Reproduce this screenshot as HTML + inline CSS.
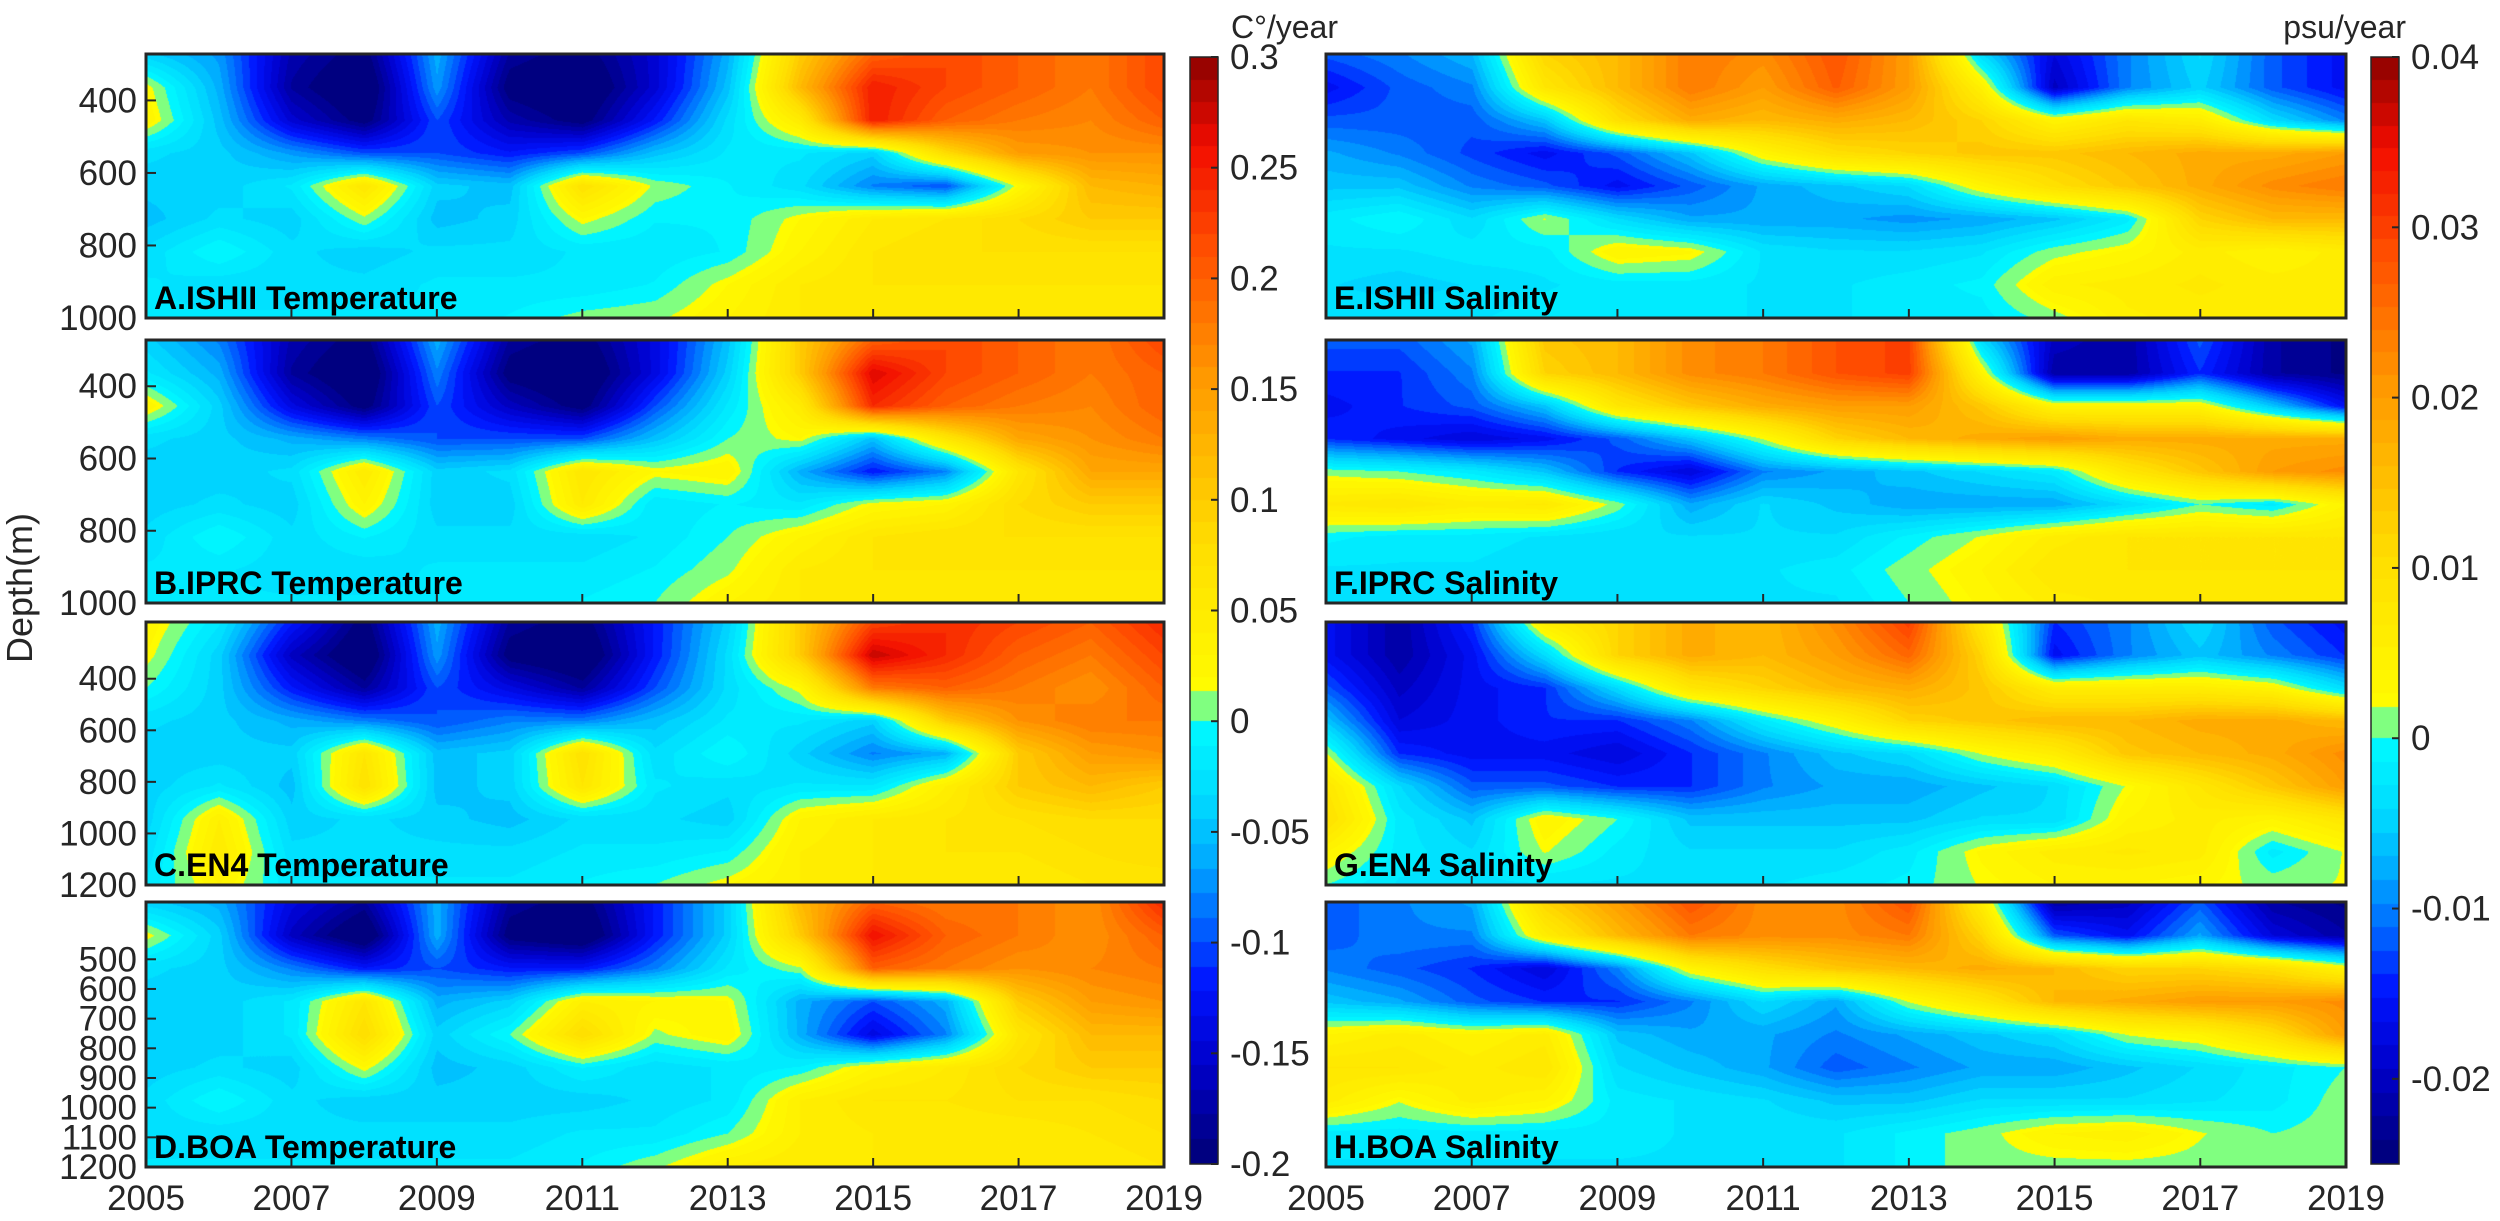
<!DOCTYPE html>
<html><head><meta charset="utf-8">
<style>
html,body{margin:0;padding:0;background:#fff;}
#root{position:relative;width:2500px;height:1221px;overflow:hidden;background:#fff;font-family:"Liberation Sans",Arial,sans-serif;}
canvas{position:absolute;}
svg{position:absolute;left:0;top:0;}
</style></head>
<body>
<div id="root">
<svg id="ov" width="2500" height="1221"></svg>
</div>
<script>
// ---------- data (rows: shallow -> deep, columns: years 2005..2019) ----------
const years = [2005,2006,2007,2008,2009,2010,2011,2012,2013,2014,2015,2016,2017,2018,2019];
const xTickLabels = ["2005","2007","2009","2011","2013","2015","2017","2019"];
const tempTicks = [-0.2,-0.15,-0.1,-0.05,0,0.05,0.1,0.15,0.2,0.25,0.3];
const tempTickLabels = ["-0.2","-0.15","-0.1","-0.05","0","0.05","0.1","0.15","0.2","0.25","0.3"];
const salTicks = [-0.02,-0.01,0,0.01,0.02,0.03,0.04];
const salTickLabels = ["-0.02","-0.01","0","0.01","0.02","0.03","0.04"];
const depthTicksAB = [400,600,800,1000];
const depthTicksC = [400,600,800,1000,1200];
const depthTicksD = [500,600,700,800,900,1000,1100,1200];

const tempISHII = [
[-0.04,-0.07,-0.17,-0.2,-0.06,-0.18,-0.2,-0.15,-0.06,0.1,0.2,0.22,0.2,0.18,0.22],
[0.02,-0.06,-0.18,-0.22,-0.07,-0.2,-0.22,-0.15,-0.05,0.12,0.25,0.22,0.2,0.18,0.22],
[0.03,-0.05,-0.15,-0.2,-0.1,-0.17,-0.2,-0.12,-0.03,0.05,0.25,0.2,0.18,0.17,0.2],
[-0.03,-0.04,-0.07,-0.1,-0.1,-0.12,-0.1,-0.05,-0.02,-0.02,-0.04,0.08,0.15,0.16,0.16],
[-0.04,-0.04,-0.02,0.06,-0.04,-0.05,0.07,0.01,-0.01,-0.03,-0.08,-0.1,0.02,0.12,0.13],
[-0.05,-0.03,-0.04,0.01,-0.05,-0.04,0.02,-0.01,-0.01,0.02,0.05,0.06,0.08,0.1,0.1],
[-0.03,0.0,-0.03,-0.04,-0.03,-0.03,-0.02,-0.02,-0.01,0.03,0.06,0.07,0.07,0.07,0.07],
[-0.02,-0.03,-0.03,-0.03,-0.02,-0.02,-0.02,-0.01,0.02,0.05,0.06,0.06,0.06,0.06,0.06],
[-0.02,-0.02,-0.02,-0.02,-0.02,-0.01,0.005,0.01,0.03,0.05,0.05,0.05,0.05,0.05,0.06]];
const tempIPRC = [
[-0.04,-0.08,-0.17,-0.2,-0.06,-0.18,-0.2,-0.14,-0.05,0.1,0.2,0.22,0.2,0.18,0.22],
[-0.02,-0.06,-0.18,-0.22,-0.08,-0.2,-0.22,-0.14,-0.04,0.1,0.27,0.22,0.2,0.18,0.2],
[0.03,-0.04,-0.14,-0.2,-0.1,-0.16,-0.2,-0.1,-0.02,0.05,0.24,0.2,0.18,0.17,0.2],
[-0.03,-0.04,-0.06,-0.08,-0.1,-0.1,-0.1,-0.05,0.0,0.02,-0.05,0.06,0.14,0.16,0.18],
[-0.04,-0.04,-0.03,0.05,-0.04,-0.03,0.06,0.02,0.03,-0.06,-0.12,-0.08,0.06,0.14,0.14],
[-0.04,-0.03,-0.04,0.03,-0.04,-0.04,0.05,-0.02,-0.01,-0.02,0.02,0.03,0.08,0.1,0.1],
[-0.03,0.0,-0.03,-0.01,-0.03,-0.03,-0.03,-0.02,0.0,0.03,0.06,0.07,0.07,0.07,0.07],
[-0.02,-0.02,-0.03,-0.03,-0.02,-0.02,-0.02,-0.01,0.01,0.05,0.06,0.06,0.06,0.06,0.06],
[-0.02,-0.02,-0.02,-0.02,-0.02,-0.02,-0.01,0.0,0.03,0.05,0.05,0.05,0.05,0.05,0.06]];
const tempEN4 = [
[0.03,-0.02,-0.12,-0.2,-0.06,-0.18,-0.2,-0.12,-0.04,0.1,0.22,0.24,0.22,0.2,0.24],
[0.02,-0.04,-0.16,-0.22,-0.07,-0.2,-0.22,-0.12,-0.03,0.1,0.28,0.24,0.2,0.18,0.22],
[0.0,-0.04,-0.12,-0.18,-0.1,-0.14,-0.18,-0.1,-0.03,0.02,0.18,0.2,0.18,0.16,0.2],
[-0.03,-0.04,-0.06,-0.08,-0.1,-0.08,-0.08,-0.05,-0.02,-0.02,-0.04,0.1,0.16,0.18,0.18],
[-0.04,-0.04,-0.04,0.06,-0.05,-0.04,0.07,-0.03,0.0,-0.04,-0.08,-0.06,0.1,0.15,0.16],
[-0.04,-0.02,-0.05,0.07,-0.05,-0.04,0.06,-0.02,-0.03,-0.02,-0.02,0.04,0.1,0.12,0.1],
[-0.04,0.04,-0.04,-0.03,-0.04,-0.05,-0.03,-0.03,-0.04,0.03,0.05,0.06,0.07,0.08,0.08],
[-0.03,0.05,-0.03,-0.03,-0.03,-0.03,-0.02,-0.02,-0.01,0.04,0.05,0.06,0.06,0.07,0.08],
[-0.02,0.03,-0.02,-0.02,-0.02,-0.02,-0.01,0.0,0.02,0.04,0.05,0.05,0.05,0.06,0.06]];
const tempBOA = [
[-0.04,-0.06,-0.14,-0.18,-0.06,-0.18,-0.2,-0.12,-0.04,0.12,0.2,0.18,0.18,0.16,0.24],
[0.02,-0.04,-0.16,-0.22,-0.06,-0.2,-0.22,-0.12,-0.04,0.1,0.26,0.2,0.18,0.16,0.2],
[-0.03,-0.04,-0.08,-0.12,-0.1,-0.12,-0.12,-0.08,-0.02,0.01,0.2,0.18,0.16,0.17,0.18],
[-0.04,-0.04,-0.02,0.06,-0.06,-0.04,0.04,0.03,0.02,-0.06,-0.1,-0.06,0.1,0.15,0.16],
[-0.04,-0.04,-0.02,0.08,-0.04,0.0,0.08,0.01,0.03,-0.06,-0.14,-0.08,0.06,0.12,0.12],
[-0.04,-0.03,-0.04,0.02,-0.05,-0.04,-0.01,-0.03,-0.02,-0.01,0.03,0.05,0.08,0.1,0.1],
[-0.03,0.0,-0.03,-0.04,-0.04,-0.04,-0.04,-0.03,-0.02,0.04,0.06,0.06,0.07,0.07,0.08],
[-0.03,-0.03,-0.03,-0.03,-0.03,-0.03,-0.02,-0.02,0.0,0.04,0.05,0.05,0.05,0.06,0.07],
[-0.02,-0.02,-0.02,-0.02,-0.02,-0.02,-0.01,0.01,0.04,0.05,0.05,0.05,0.05,0.05,0.06]];
const salISHII = [
[-0.012,-0.01,-0.007,0.012,0.016,0.024,0.022,0.028,0.02,-0.004,-0.018,-0.01,-0.004,-0.012,-0.016],
[-0.016,-0.012,-0.01,0.008,0.016,0.024,0.02,0.027,0.02,0.005,-0.02,-0.01,-0.005,-0.012,-0.016],
[-0.012,-0.012,-0.012,-0.006,0.01,0.018,0.016,0.018,0.016,0.012,0.004,0.008,0.006,-0.004,-0.01],
[-0.008,-0.01,-0.013,-0.016,-0.012,-0.006,0.004,0.01,0.012,0.014,0.014,0.016,0.018,0.018,0.02],
[-0.006,-0.006,-0.01,-0.012,-0.016,-0.012,-0.008,-0.006,-0.004,0.004,0.01,0.014,0.018,0.022,0.024],
[-0.002,0.0,-0.004,0.002,-0.004,-0.008,-0.008,-0.008,-0.009,-0.008,-0.006,-0.002,0.012,0.016,0.016],
[-0.003,-0.003,-0.002,-0.002,0.004,0.003,-0.003,-0.004,-0.004,-0.003,0.001,0.003,0.006,0.004,0.006],
[-0.004,-0.005,-0.004,-0.003,-0.002,-0.002,-0.003,-0.003,-0.002,-0.001,0.005,0.006,0.007,0.006,0.006],
[-0.003,-0.003,-0.003,-0.002,-0.002,-0.002,-0.003,-0.003,-0.002,-0.002,0.001,0.005,0.006,0.006,0.006]];
const salIPRC = [
[-0.012,-0.012,-0.008,0.014,0.016,0.022,0.024,0.028,0.03,-0.004,-0.02,-0.022,-0.012,-0.022,-0.024],
[-0.014,-0.014,-0.01,0.012,0.016,0.022,0.024,0.028,0.03,0.004,-0.022,-0.022,-0.014,-0.022,-0.024],
[-0.016,-0.014,-0.012,-0.006,0.008,0.014,0.018,0.02,0.02,0.014,0.004,0.004,0.004,-0.006,-0.016],
[-0.014,-0.016,-0.018,-0.016,-0.012,-0.006,0.002,0.012,0.016,0.018,0.02,0.018,0.018,0.018,0.018],
[0.001,0.0,-0.002,-0.006,-0.014,-0.018,-0.01,-0.008,-0.006,-0.004,-0.002,0.008,0.014,0.02,0.022],
[0.007,0.008,0.006,0.007,0.001,-0.008,-0.004,-0.006,-0.008,-0.008,-0.008,-0.004,0.0,-0.002,0.004],
[-0.001,-0.002,-0.002,-0.003,-0.004,-0.004,-0.004,-0.004,-0.001,0.002,0.006,0.008,0.008,0.008,0.008],
[-0.003,-0.003,-0.003,-0.004,-0.004,-0.004,-0.003,-0.002,0.001,0.004,0.008,0.008,0.008,0.008,0.008],
[-0.003,-0.003,-0.003,-0.003,-0.003,-0.003,-0.003,-0.003,0.0,0.003,0.006,0.007,0.007,0.007,0.008]];
const salEN4 = [
[-0.016,-0.022,-0.014,0.006,0.012,0.018,0.016,0.022,0.03,0.008,-0.014,-0.01,-0.004,-0.012,-0.016],
[-0.016,-0.022,-0.016,-0.004,0.012,0.018,0.016,0.02,0.026,0.012,-0.016,-0.01,-0.006,-0.01,-0.014],
[-0.012,-0.02,-0.016,-0.014,-0.004,0.008,0.012,0.016,0.018,0.014,0.006,0.006,0.006,0.004,-0.004],
[-0.006,-0.018,-0.016,-0.014,-0.014,-0.01,-0.002,0.004,0.012,0.014,0.016,0.016,0.018,0.018,0.016],
[0.002,-0.014,-0.016,-0.016,-0.018,-0.014,-0.01,-0.006,-0.004,0.002,0.006,0.014,0.016,0.018,0.022],
[0.008,-0.004,-0.012,-0.012,-0.014,-0.014,-0.01,-0.008,-0.008,-0.006,-0.004,0.002,0.008,0.014,0.02],
[0.01,-0.002,-0.006,0.004,0.0,-0.006,-0.006,-0.006,-0.006,-0.004,-0.004,0.004,0.006,0.004,0.008],
[0.004,-0.002,-0.004,0.002,-0.002,-0.004,-0.004,-0.004,-0.002,0.003,0.006,0.007,0.006,-0.002,0.002],
[0.0,-0.003,-0.003,-0.003,-0.003,-0.003,-0.003,-0.002,-0.001,0.002,0.004,0.004,0.003,0.001,0.002]];
const salBOA = [
[-0.012,-0.01,-0.008,0.012,0.02,0.028,0.022,0.022,0.028,0.006,-0.022,-0.02,-0.012,-0.022,-0.024],
[-0.012,-0.01,-0.01,0.006,0.016,0.024,0.022,0.022,0.024,0.012,-0.012,-0.016,-0.008,-0.018,-0.022],
[-0.01,-0.012,-0.014,-0.018,-0.01,0.004,0.01,0.014,0.016,0.018,0.016,0.012,0.012,0.01,0.004],
[-0.006,-0.008,-0.012,-0.014,-0.014,-0.01,-0.004,-0.008,0.002,0.008,0.016,0.018,0.02,0.02,0.022],
[0.004,0.006,0.004,0.006,-0.006,-0.008,-0.008,-0.01,-0.008,-0.006,-0.004,0.002,0.004,0.01,0.02],
[0.008,0.008,0.006,0.008,-0.004,-0.006,-0.008,-0.012,-0.01,-0.008,-0.008,-0.006,-0.004,-0.002,0.0],
[0.006,0.002,0.006,0.004,-0.002,-0.003,-0.004,-0.006,-0.006,-0.004,-0.004,-0.004,-0.003,-0.002,0.001],
[-0.002,-0.002,-0.002,-0.002,-0.002,-0.003,-0.003,-0.003,-0.001,0.001,0.004,0.005,0.002,0.0,0.001],
[-0.003,-0.003,-0.003,-0.003,-0.003,-0.003,-0.003,-0.003,-0.001,0.001,0.001,0.001,0.001,0.0,0.001]];

// ---------- layout ----------
const L = {lx:146, lw:1018, rx:1326, rw:1020};
const rowsY = [[54,318],[340,603],[622,885],[902,1167]];
const depthRange = [[272,1000],[272,1000],[180,1200],[307,1200]];
const TMIN=-0.2, TMAX=0.3, SMIN=-0.025, SMAX=0.04;
const CB = {top:57, bot:1164, lx:1190, rx:2371, w:28};

// ---------- colormap ----------
function lerpA(anc, t){
  for(let i=1;i<anc.length;i++){ if(t<=anc[i][0]){ const a=anc[i-1],b=anc[i]; const u=(t-a[0])/(b[0]-a[0]); return [0,1,2].map(k=>a[1][k]+(b[1][k]-a[1][k])*u);} }
  return anc[anc.length-1][1];
}
const negA=[[0,[0,1,1]],[0.2,[0,0.86,1]],[0.35,[0,0.66,1]],[0.5,[0,0.36,1]],[0.62,[0,0.08,1]],[0.8,[0,0,0.8]],[1,[0,0,0.5]]];
const posA=[[0,[1,1,0]],[0.25,[1,0.87,0]],[0.5,[1,0.6,0]],[0.7,[1,0.3,0]],[0.85,[0.95,0.05,0]],[1,[0.5,0,0]]];
function cmap(v, vmin, vmax){
  if(v<0){ let f=Math.min(1,v/vmin); f=Math.ceil(f*18)/18; return lerpA(negA,f); }
  let p=Math.min(1,v/vmax);
  if(p<0.045) return [0.5,1,0.5];
  p=Math.floor(p*30)/30; return lerpA(posA,p);
}
function sample(g, fx, fy){
  const R=g.length-1, C=g[0].length-1;
  const x=fx*C, y=fy*R; const i=Math.min(C-1,Math.floor(x)), j=Math.min(R-1,Math.floor(y));
  const u=x-i, w=y-j;
  return g[j][i]*(1-u)*(1-w)+g[j][i+1]*u*(1-w)+g[j+1][i]*(1-u)*w+g[j+1][i+1]*u*w;
}

const root=document.getElementById('root');
const ov=document.getElementById('ov');
const NS='http://www.w3.org/2000/svg';
function sv(tag, attrs, txt){ const e=document.createElementNS(NS,tag); for(const k in attrs) e.setAttribute(k,attrs[k]); if(txt!==undefined) e.textContent=txt; ov.appendChild(e); return e; }

function drawPanel(g, x, y0, y1, w, vmin, vmax, name){
  const h=y1-y0;
  const c=document.createElement('canvas'); c.width=w; c.height=h;
  c.style.left=x+'px'; c.style.top=y0+'px';
  
  
  const ctx=c.getContext('2d'); const im=ctx.createImageData(w,h);
  for(let py=0;py<h;py++){ for(let px=0;px<w;px++){
    const v=sample(g, px/(w-1), py/(h-1)); const col=cmap(v,vmin,vmax); const o=(py*w+px)*4;
    im.data[o]=col[0]*255; im.data[o+1]=col[1]*255; im.data[o+2]=col[2]*255; im.data[o+3]=255; } }
  ctx.putImageData(im,0,0); root.insertBefore(c, ov);
}
function drawColorbar(x, vmin, vmax, name){
  const h=CB.bot-CB.top;
  const c=document.createElement('canvas'); c.width=CB.w; c.height=h;
  c.style.left=x+'px'; c.style.top=CB.top+'px';
  
  
  const ctx=c.getContext('2d');
  for(let py=0;py<h;py++){ const v=vmax-(py/(h-1))*(vmax-vmin); const col=cmap(v,vmin,vmax);
    ctx.fillStyle='rgb('+Math.round(col[0]*255)+','+Math.round(col[1]*255)+','+Math.round(col[2]*255)+')'; ctx.fillRect(0,py,CB.w,1); }
  root.insertBefore(c, ov);
}
const cbY=(v,vmin,vmax)=>CB.bot-(v-vmin)/(vmax-vmin)*(CB.bot-CB.top);

const panels=[
 {g:tempISHII,side:'L',r:0,t:'A.ISHII Temperature',ticks:depthTicksAB},
 {g:tempIPRC,side:'L',r:1,t:'B.IPRC Temperature',ticks:depthTicksAB},
 {g:tempEN4,side:'L',r:2,t:'C.EN4 Temperature',ticks:depthTicksC},
 {g:tempBOA,side:'L',r:3,t:'D.BOA Temperature',ticks:depthTicksD},
 {g:salISHII,side:'R',r:0,t:'E.ISHII Salinity'},
 {g:salIPRC,side:'R',r:1,t:'F.IPRC Salinity'},
 {g:salEN4,side:'R',r:2,t:'G.EN4 Salinity'},
 {g:salBOA,side:'R',r:3,t:'H.BOA Salinity'}];

panels.forEach((p,k)=>{
  const x=p.side==='L'?L.lx:L.rx, w=p.side==='L'?L.lw:L.rw;
  const [y0,y1]=rowsY[p.r];
  const vmin=p.side==='L'?TMIN:SMIN, vmax=p.side==='L'?TMAX:SMAX;
  const nm='panel-'+'abcdefgh'[k];
  drawPanel(p.g,x,y0,y1,w,vmin,vmax,nm);
  const b=sv('rect',{x:x,y:y0,width:w,height:y1-y0,fill:'none',stroke:'#262626','stroke-width':3});
  
  
  const t=sv('text',{x:x+8,y:y1-9,'font-size':32,'font-weight':'bold',fill:'#000'},p.t);
  
  
  if(p.ticks){
    const [d0,d1]=depthRange[p.r];
    p.ticks.forEach(d=>{
      const yy=y0+(d-d0)/(d1-d0)*(y1-y0);
      const tl=sv('text',{x:x-9,y:yy+12,'font-size':35,'text-anchor':'end',fill:'#262626'},String(d));
      
      
      sv('line',{x1:x,x2:x+10,y1:yy,y2:yy,stroke:'#262626','stroke-width':2});
    });
  }
  if(p.r===3){
    xTickLabels.forEach(s=>{
      const xx=x+(Number(s)-years[0])/(years[years.length-1]-years[0])*w;
      const xl=sv('text',{x:xx,y:1210,'font-size':35,'text-anchor':'middle',fill:'#262626'},s);
      
      
    });
  }
  xTickLabels.forEach(s=>{
    const xx=x+(Number(s)-years[0])/(years[years.length-1]-years[0])*w;
    sv('line',{x1:xx,x2:xx,y1:y1,y2:y1-9,stroke:'#262626','stroke-width':2});
  });
});

drawColorbar(CB.lx,TMIN,TMAX,'temperature-colorbar');
drawColorbar(CB.rx,SMIN,SMAX,'salinity-colorbar');
[[CB.lx,TMIN,TMAX,tempTicks,tempTickLabels],[CB.rx,SMIN,SMAX,salTicks,salTickLabels]].forEach(([cx,mn,mx,tk,lb])=>{
  sv('rect',{x:cx,y:CB.top,width:CB.w,height:CB.bot-CB.top,fill:'none',stroke:'#262626','stroke-width':1.5});
  tk.forEach((v,i)=>{
    const yy=cbY(v,mn,mx);
    sv('line',{x1:cx+CB.w-7,x2:cx+CB.w,y1:yy,y2:yy,stroke:'#262626','stroke-width':2});
    const tl=sv('text',{x:cx+40,y:yy+12,'font-size':35,fill:'#262626'},lb[i]);
    
    
  });
});
const u1=sv('text',{x:1338,y:38,'font-size':32,'text-anchor':'end',fill:'#262626'},'C°/year');


const u2=sv('text',{x:2406,y:38,'font-size':32,'text-anchor':'end',fill:'#262626'},'psu/year');


const yt=sv('text',{x:0,y:0,'font-size':36,'text-anchor':'middle',fill:'#262626',transform:'translate(32,588) rotate(-90)'},'Depth(m)');


</script>
</body></html>
